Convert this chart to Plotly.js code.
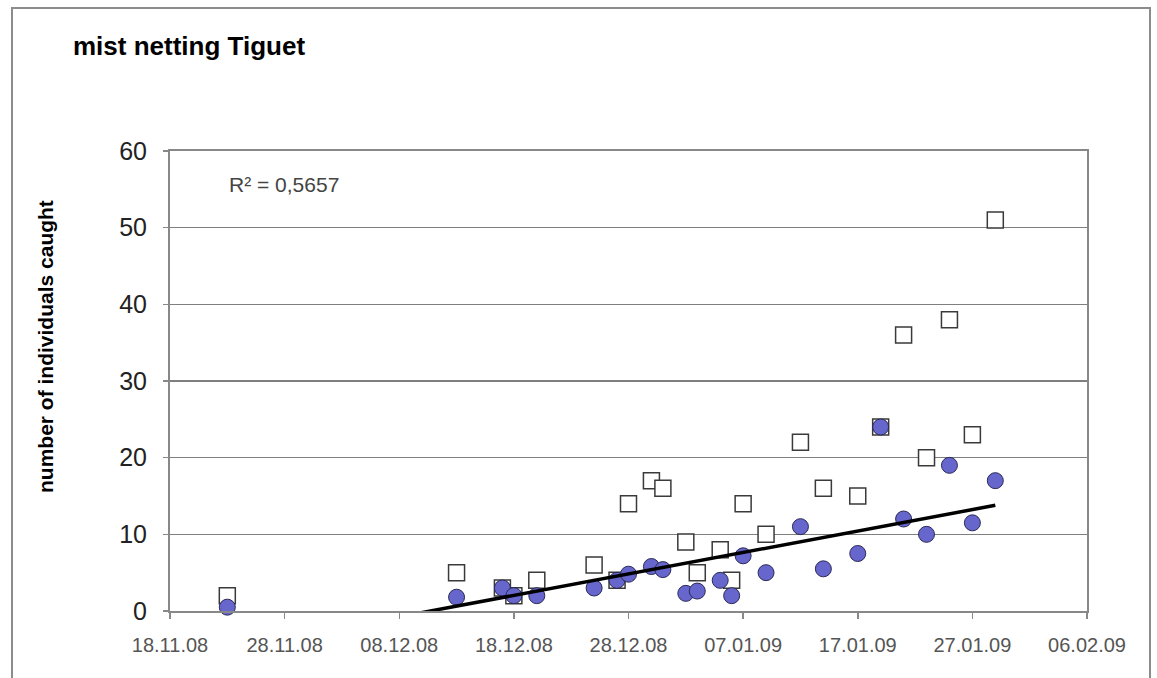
<!DOCTYPE html>
<html>
<head>
<meta charset="utf-8">
<script src="https://cdn.plot.ly/plotly-3.0.1.min.js"></script>
<style>
html,body{margin:0;padding:0;background:#fff;}
#chart{width:1157px;height:678px;}
</style>
</head>
<body>
<div id="chart"></div>
<script>
// Sampling dates
const dates = ['2008-11-23','2008-12-13','2008-12-17','2008-12-18','2008-12-20','2008-12-25','2008-12-27','2008-12-28','2008-12-30','2008-12-31','2009-01-02','2009-01-03','2009-01-05','2009-01-06','2009-01-07','2009-01-09','2009-01-12','2009-01-14','2009-01-17','2009-01-19','2009-01-21','2009-01-23','2009-01-25','2009-01-27','2009-01-29'];
// open squares
const squareValues = [2,5,3,2,4,6,4,14,17,16,9,5,8,4,14,10,22,16,15,24,36,20,38,23,51];
// filled circles
const circleValues = [0.5,1.8,3,2,2,3,4,4.8,5.8,5.4,2.3,2.6,4,2,7.2,5,11,5.5,7.5,24,12,10,19,11.5,17];
const tickDates = ['2008-11-18','2008-11-28','2008-12-08','2008-12-18','2008-12-28','2009-01-07','2009-01-17','2009-01-27','2009-02-06'];
const tickLabels = ['18.11.08','28.11.08','08.12.08','18.12.08','28.12.08','07.01.09','17.01.09','27.01.09','06.02.09'];
const yTicks = [0,10,20,30,40,50,60];
const r2Text = 'R² = 0,5657';

// linear trend of circle series
const t = dates.map(d => new Date(d + 'T00:00:00Z').getTime() / 86400000);
const n = t.length;
const mx = t.reduce((a,b)=>a+b,0)/n;
const my = circleValues.reduce((a,b)=>a+b,0)/n;
let sxy=0, sxx=0;
for(let i=0;i<n;i++){sxy+=(t[i]-mx)*(circleValues[i]-my); sxx+=(t[i]-mx)*(t[i]-mx);}
const slope = sxy/sxx, icpt = my - slope*mx;
const trendX = [dates[0], dates[n-1]];
const trendY = [icpt + slope*t[0], icpt + slope*t[n-1]];

const font = 'Liberation Sans, Arial, sans-serif';
const PW = 917, PH = 460; // plot area px
const traces = [
  {x: dates, y: squareValues, type:'scatter', mode:'markers', cliponaxis:false,
   marker:{symbol:'square', size:16, color:'#ffffff', line:{color:'#3a3a3a', width:1.5}}},
  {x: dates, y: circleValues, type:'scatter', mode:'markers', cliponaxis:false,
   marker:{symbol:'circle', size:16, color:'#6666cc', line:{color:'#2a2a55', width:1}}},
  {x: trendX, y: trendY, type:'scatter', mode:'lines',
   line:{color:'#000000', width:3.5}}
];

const layout = {
  width:1157, height:678,
  margin:{l:170, r:70, t:151, b:67},
  paper_bgcolor:'#ffffff', plot_bgcolor:'#ffffff',
  showlegend:false,
  font:{family:font},
  title:{text:'<b>mist netting Tiguet</b>', x:73/1157, xanchor:'left', y:1-46/678, yanchor:'middle',
         font:{family:font, size:26, color:'#000'}},
  xaxis:{type:'date', range:['2008-11-18','2009-02-06'], tickvals:tickDates, ticktext:tickLabels,
         showgrid:false, zeroline:false, showline:true, linecolor:'#888', linewidth:2, mirror:true,
         ticks:'outside', ticklen:6, tickwidth:1.5, tickcolor:'#888', ticklabelstandoff:9,
         tickfont:{family:font, size:20, color:'#555'}},
  yaxis:{range:[0,60], tickvals:yTicks, showgrid:true, gridcolor:'#7f7f7f', gridwidth:1.5,
         zeroline:false, showline:true, linecolor:'#888', linewidth:2, mirror:true,
         ticks:'outside', ticklen:5, tickwidth:1.5, tickcolor:'#888', ticklabelstandoff:11,
         tickfont:{family:font, size:25, color:'#222'}},
  annotations:[
    {text:r2Text, xref:'paper', yref:'paper', x:(227-170)/PW, y:(611-184)/PH,
     xanchor:'left', yanchor:'middle', showarrow:false,
     font:{family:font, size:21, color:'#444'}},
    {text:'<b>number of individuals caught</b>', xref:'paper', yref:'paper', textangle:-90,
     x:(45-170)/PW, y:(611-347)/PH, xanchor:'center', yanchor:'middle', showarrow:false,
     font:{family:font, size:21, color:'#000'}}
  ],
  shapes:[{type:'rect', xref:'paper', yref:'paper', x0:-158/PW, x1:(1150-170)/PW, y0:-80/PH, y1:(611-8)/PH,
           line:{color:'#8c8c8c', width:2}, fillcolor:'rgba(0,0,0,0)', layer:'below'}]
};
Plotly.newPlot('chart', traces, layout, {displayModeBar:false, staticPlot:true});
</script>
</body>
</html>
